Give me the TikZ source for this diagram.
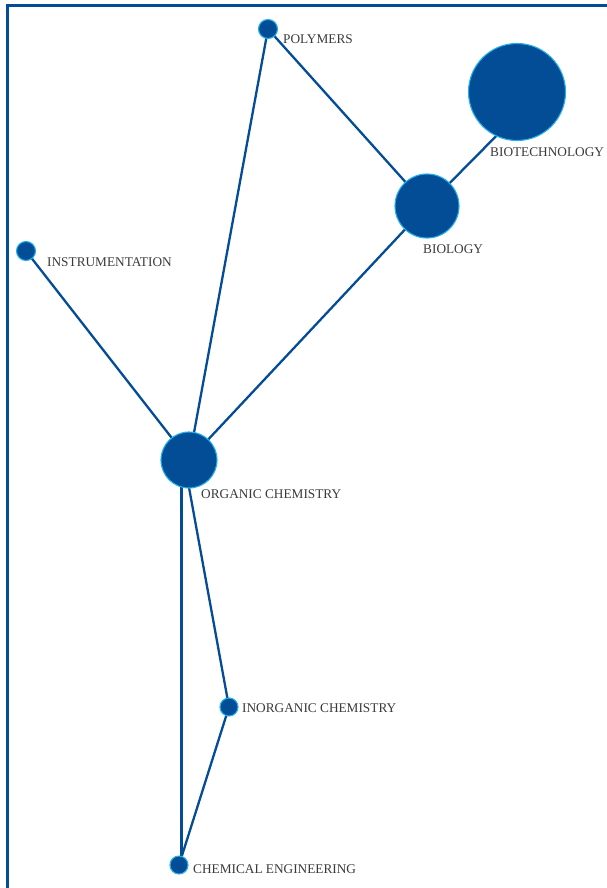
\documentclass[tikz,border=0pt]{standalone}
\usepackage{fontspec}
\setmainfont{Liberation Serif}
\definecolor{navy}{HTML}{034C96}
\definecolor{rim}{HTML}{22B0E8}
\definecolor{txt}{HTML}{3A3A3A}
\begin{document}
\begin{tikzpicture}[x=1pt,y=-1pt,
  topic/.style={circle,fill=navy,draw=rim,line width=1.1pt,inner sep=0pt,minimum size=#1},
  lbl/.style={anchor=base west,inner sep=0pt,text=txt,font=\fontsize{13.3}{14}\selectfont},
  link/.style={draw=navy,line width=2.3pt}]
\useasboundingbox (0,0) rectangle (607,888);
\draw[navy,line width=3pt] (7,888) -- (7,6) -- (608,6);
% node positions
\coordinate (pol) at (268,29);
\coordinate (bt) at (517,92);
\coordinate (btin) at (517,115);
\coordinate (bio) at (427,206);
\coordinate (ins) at (26,251);
\coordinate (org) at (189,460);
\coordinate (orgl) at (184,460);
\coordinate (orgb) at (181.5,470);
\coordinate (inorg) at (229,707);
\coordinate (ce) at (179,865);
\coordinate (ceb) at (181.5,862);
% links
\draw[link] (pol) -- (org);
\draw[link] (pol) -- (bio);
\draw[link] (btin) -- (bio);
\draw[link] (bio) -- (org);
\draw[link] (ins) -- (org);
\draw[link] (orgl) -- (inorg);
\draw[link] (orgb) -- (ceb);
\draw[link] (inorg) -- (ce);
% circles
\node[topic=19pt] (npol) at (pol) {};
\node[topic=97pt] (nbt) at (bt) {};
\node[topic=64pt] (nbio) at (bio) {};
\node[topic=19pt] (nins) at (ins) {};
\node[topic=56pt] (norg) at (org) {};
\node[topic=18pt] (ninorg) at (inorg) {};
\node[topic=18pt] (nce) at (ce) {};
% labels
\node[lbl] (lpol) at (283,43.2) {POLYMERS};
\node[lbl] (lbt) at (490,156.5) {BIOTECHNOLOGY};
\node[lbl] (lbio) at (423,253.5) {BIOLOGY};
\node[lbl] (lins) at (47,266.5) {INSTRUMENTATION};
\node[lbl] (lorg) at (201,498.5) {ORGANIC CHEMISTRY};
\node[lbl] (linorg) at (242,712.5) {INORGANIC CHEMISTRY};
\node[lbl] (lce) at (193,873.2) {CHEMICAL ENGINEERING};
\end{tikzpicture}
\end{document}
